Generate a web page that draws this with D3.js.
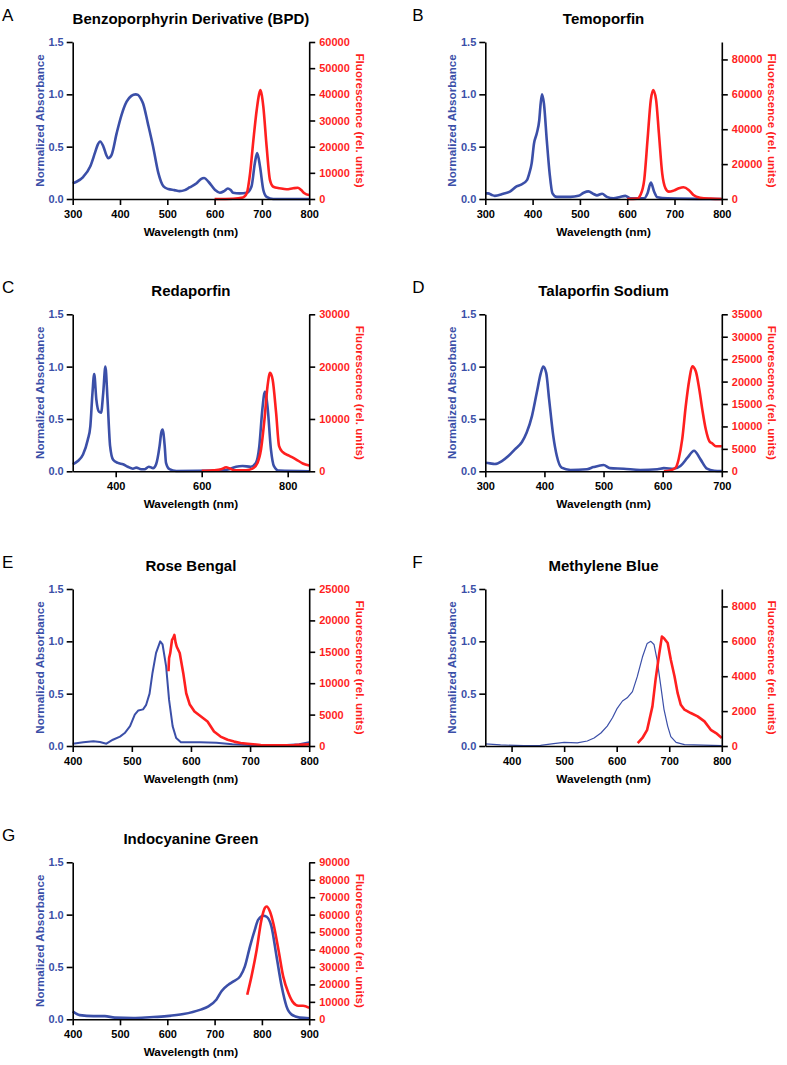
<!DOCTYPE html>
<html>
<head>
<meta charset="utf-8">
<script src="https://cdn.jsdelivr.net/npm/d3@7"></script>
<style>
  body { margin: 0; background: #fff; }
  svg { display: block; font-family: "Liberation Sans", Arial, sans-serif; }
</style>
</head>
<body>
<div id="container"></div>
<script>
"use strict";

const width = 787;
const height = 1065;

const absColor = "#3B4FA8";
const flColor = "#FF1F1F";

const colLeft = [72.7, 485.3];
const rowTop = [42, 314.3, 589, 862.3];
const plotWidth = 236.5;
const plotHeight = 157;

// panel text
const letters = ["A", "B", "C", "D", "E", "F", "G"];
const titles = [
  "Benzoporphyrin Derivative (BPD)",
  "Temoporfin",
  "Redaporfin",
  "Talaporfin Sodium",
  "Rose Bengal",
  "Methylene Blue",
  "Indocyanine Green",
];

// axes
const xDomains = [[300, 800], [300, 800], [300, 850], [300, 700], [400, 800], [350, 800], [400, 900]];
const xTicks = [
  [300, 400, 500, 600, 700, 800],
  [300, 400, 500, 600, 700, 800],
  [400, 600, 800],
  [300, 400, 500, 600, 700],
  [400, 500, 600, 700, 800],
  [400, 500, 600, 700, 800],
  [400, 500, 600, 700, 800, 900],
];
const absTicks = [0, 0.5, 1.0, 1.5];
const flMax = [60000, 90000, 30000, 35000, 25000, 9000, 90000];
const flTicks = [
  [0, 10000, 20000, 30000, 40000, 50000, 60000],
  [0, 20000, 40000, 60000, 80000],
  [0, 10000, 20000, 30000],
  [0, 5000, 10000, 15000, 20000, 25000, 30000, 35000],
  [0, 5000, 10000, 15000, 20000, 25000],
  [0, 2000, 4000, 6000, 8000],
  [0, 10000, 20000, 30000, 40000, 50000, 60000, 70000, 80000, 90000],
];

// spectra: [wavelength nm, value]
const bpdAbs = [[300,0.15],[308,0.165],[322,0.21],[337,0.31],[347,0.44],[353,0.52],[358,0.55],[365,0.50],[371,0.42],[375,0.39],[382,0.42],[393,0.63],[403,0.80],[414,0.93],[424,0.985],[433,1.0],[438,0.995],[444,0.96],[449,0.91],[459,0.72],[470,0.50],[481,0.25],[492,0.12],[502,0.095],[515,0.085],[526,0.075],[537,0.085],[547,0.11],[562,0.15],[571,0.19],[578,0.20],[587,0.165],[601,0.086],[611,0.06],[620,0.075],[628,0.10],[634,0.085],[639,0.06],[653,0.054],[668,0.06],[678,0.12],[685,0.34],[690,0.44],[696,0.31],[703,0.086],[710,0.02],[724,0.0],[800,0.0]];
const bpdFl = [[600,0],[639,100],[660,600],[668,2200],[675,9800],[682,22500],[689,34000],[694,40000],[697,41600],[700,39500],[703,35300],[710,20000],[717,7300],[724,4700],[738,4100],[752,3700],[766,4100],[776,4300],[783,3400],[790,2200],[800,1500]];

const temAbs = [[300,0.054],[306,0.054],[313,0.04],[320,0.03],[338,0.05],[352,0.07],[366,0.12],[377,0.14],[388,0.18],[393,0.245],[398,0.34],[403,0.53],[409,0.63],[414,0.75],[417,0.91],[420,1.0],[424,0.91],[430,0.56],[436,0.245],[442,0.054],[451,0.02],[480,0.02],[497,0.03],[508,0.06],[518,0.073],[529,0.048],[536,0.035],[547,0.05],[557,0.02],[571,0.006],[585,0.02],[596,0.03],[607,0.006],[636,0.006],[643,0.054],[650,0.156],[657,0.07],[664,0.016],[685,0.006],[800,0.0]];
const temFl = [[600,0],[621,200],[628,2300],[636,11000],[643,34000],[650,57000],[655,62500],[661,57000],[667,37700],[674,14700],[681,6100],[688,4200],[698,4800],[709,6100],[719,6700],[730,5200],[740,2300],[754,770],[776,200],[800,0]];

const redAbs = [[300,0.067],[312,0.098],[324,0.16],[335,0.30],[341,0.43],[346,0.75],[350,0.93],[355,0.685],[361,0.57],[366,0.56],[371,0.75],[376,1.0],[381,0.685],[387,0.24],[394,0.11],[405,0.08],[417,0.067],[428,0.044],[440,0.025],[448,0.035],[459,0.02],[467,0.02],[477,0.044],[487,0.03],[494,0.067],[502,0.24],[506,0.37],[509,0.40],[514,0.24],[517,0.08],[525,0.02],[541,0.003],[641,0.006],[664,0.02],[680,0.044],[695,0.05],[714,0.044],[726,0.08],[734,0.24],[741,0.59],[747,0.76],[753,0.62],[761,0.21],[768,0.05],[780,0.006],[850,0.0]];
const redFl = [[600,100],[626,190],[645,380],[657,760],[664,570],[676,190],[703,190],[718,500],[730,1650],[738,4200],[746,9900],[753,16200],[759,18800],[765,17500],[773,11200],[780,4800],[788,3700],[803,3000],[819,2300],[835,1500],[850,1100]];

const talAbs = [[300,0.082],[308,0.076],[316,0.07],[328,0.098],[339,0.146],[350,0.21],[362,0.28],[370,0.37],[379,0.53],[387,0.75],[394,0.94],[398,1.0],[403,0.94],[408,0.685],[415,0.336],[421,0.146],[429,0.035],[444,0.013],[472,0.02],[483,0.04],[500,0.06],[511,0.03],[534,0.025],[562,0.013],[591,0.02],[602,0.03],[619,0.025],[630,0.05],[642,0.13],[653,0.197],[664,0.114],[675,0.025],[687,0.006],[700,0.003]];
const talFl = [[602,0],[613,200],[622,800],[627,2700],[633,7100],[639,14500],[645,20400],[650,23400],[656,22300],[662,18200],[667,13800],[673,9300],[679,6700],[684,6200],[690,5600],[700,5600]];

const rbAbs = [[400,0.022],[418,0.035],[435,0.045],[446,0.038],[457,0.022],[468,0.06],[480,0.09],[488,0.124],[497,0.19],[505,0.30],[511,0.34],[519,0.35],[524,0.39],[530,0.50],[535,0.70],[541,0.89],[548,1.0],[552,0.97],[558,0.76],[563,0.44],[569,0.19],[575,0.076],[583,0.035],[615,0.035],[643,0.03],[670,0.016],[698,0.01],[726,0.005],[755,0.008],[783,0.016],[800,0.035]];
const rbFl = [[562,11900],[563,14000],[565,14800],[568,16900],[570,17200],[572,17700],[574,16500],[576,15800],[581,14800],[587,11600],[592,8400],[598,6600],[606,5500],[617,4700],[628,3900],[639,2300],[650,1500],[662,1000],[673,700],[684,480],[696,370],[718,160],[741,100],[775,160],[800,260]];

const mbAbs = [[350,0.02],[379,0.01],[423,0.003],[455,0.006],[480,0.022],[500,0.035],[525,0.03],[544,0.048],[557,0.076],[570,0.124],[582,0.19],[592,0.27],[601,0.36],[611,0.43],[620,0.46],[630,0.52],[639,0.66],[649,0.85],[658,0.98],[665,1.0],[671,0.97],[677,0.82],[684,0.57],[690,0.35],[697,0.19],[703,0.09],[713,0.035],[729,0.013],[800,0.003]];
const mbFl = [[640,170],[649,460],[658,930],[668,2270],[674,3800],[681,5300],[686,6270],[690,6180],[697,5900],[703,4940],[710,4000],[716,3030],[722,2360],[729,2080],[741,1890],[754,1700],[767,1410],[779,930],[789,740],[800,460]];

const icgAbs = [[400,0.076],[415,0.04],[444,0.03],[468,0.03],[489,0.016],[528,0.013],[563,0.02],[599,0.03],[634,0.05],[669,0.09],[687,0.124],[704,0.19],[715,0.27],[729,0.33],[739,0.36],[754,0.41],[764,0.505],[775,0.70],[785,0.855],[792,0.95],[803,0.99],[810,0.98],[820,0.89],[831,0.60],[842,0.31],[852,0.124],[863,0.045],[880,0.016],[900,0.01]];
const icgFl = [[769,14100],[778,24600],[789,39900],[799,57000],[806,63700],[810,64700],[817,61800],[824,55200],[835,39900],[845,24600],[856,15100],[866,9700],[877,7800],[887,7800],[900,6500]];

const absSeries = [bpdAbs, temAbs, redAbs, talAbs, rbAbs, mbAbs, icgAbs];
const flSeries = [bpdFl, temFl, redFl, talFl, rbFl, mbFl, icgFl];

// line styles per panel
const absWidths = [2.6, 2.6, 2.6, 2.6, 2, 1.2, 2.6];
const noisy = [false, false, false, false, true, true, false];

const svg = d3
  .select("#container")
  .append("svg")
  .attr("width", width)
  .attr("height", height);

const styleAxis = (g, color) => {
  g.select(".domain").attr("stroke", "#000").attr("stroke-width", 1.6);
  g.selectAll(".tick line").attr("stroke", "#000").attr("stroke-width", 1.6);
  g.selectAll(".tick text")
    .attr("fill", color)
    .style("font-size", "11px")
    .style("font-weight", "bold")
    .style("font-family", "'Liberation Sans', Arial, sans-serif");
};

const drawPanel = (i) => {
  const left = colLeft[i % 2];
  const top = rowTop[Math.floor(i / 2)];
  const bottom = top + plotHeight;
  const right = left + plotWidth;

  const x = d3.scaleLinear().domain(xDomains[i]).range([left, right]);
  const yAbs = d3.scaleLinear().domain([0, 1.5]).range([bottom, top]);
  const yFl = d3.scaleLinear().domain([0, flMax[i]]).range([bottom, top]);

  const curve = noisy[i] ? d3.curveLinear : d3.curveMonotoneX;

  // title and letter
  svg
    .append("text")
    .attr("x", (left + right) / 2)
    .attr("y", top - 18.5)
    .attr("text-anchor", "middle")
    .style("font-size", "15px")
    .style("font-weight", "bold")
    .text(titles[i]);

  svg
    .append("text")
    .attr("x", i % 2 === 0 ? 2 : left - 73)
    .attr("y", top - 21.5)
    .style("font-size", "17px")
    .text(letters[i]);

  // spectra
  svg
    .append("path")
    .datum(absSeries[i])
    .attr("fill", "none")
    .attr("stroke", absColor)
    .attr("stroke-width", absWidths[i])
    .attr("stroke-linejoin", "round")
    .attr(
      "d",
      d3
        .line()
        .x((d) => x(d[0]))
        .y((d) => yAbs(d[1]))
        .curve(curve)
    );

  svg
    .append("path")
    .datum(flSeries[i])
    .attr("fill", "none")
    .attr("stroke", flColor)
    .attr("stroke-width", 2.6)
    .attr("stroke-linejoin", "round")
    .attr(
      "d",
      d3
        .line()
        .x((d) => x(d[0]))
        .y((d) => yFl(d[1]))
        .curve(curve)
    );

  // axes
  svg
    .append("g")
    .attr("transform", `translate(0, ${bottom})`)
    .call(
      d3
        .axisBottom(x)
        .tickValues(xTicks[i])
        .tickSize(6)
        .tickSizeOuter(0)
        .tickPadding(5)
        .tickFormat(d3.format("d"))
    )
    .call((g) => styleAxis(g, "#000"));

  svg
    .append("g")
    .attr("transform", `translate(${left}, 0)`)
    .call(
      d3
        .axisLeft(yAbs)
        .tickValues(absTicks)
        .tickSize(6)
        .tickSizeOuter(0)
        .tickPadding(3)
        .tickFormat(d3.format(".1f"))
    )
    .call((g) => styleAxis(g, absColor));

  svg
    .append("g")
    .attr("transform", `translate(${right}, 0)`)
    .call(
      d3
        .axisRight(yFl)
        .tickValues(flTicks[i])
        .tickSize(6)
        .tickSizeOuter(0)
        .tickPadding(4)
        .tickFormat(d3.format("d"))
    )
    .call((g) => styleAxis(g, flColor));

  // axis labels
  svg
    .append("text")
    .attr("text-anchor", "middle")
    .attr("x", (left + right) / 2)
    .attr("y", bottom + 37)
    .style("font-size", "11.8px")
    .style("font-weight", "bold")
    .text("Wavelength (nm)");

  svg
    .append("text")
    .attr("text-anchor", "middle")
    .attr("dominant-baseline", "central")
    .attr("transform", `translate(${left - 33.5}, ${(top + bottom) / 2}) rotate(-90)`)
    .attr("fill", absColor)
    .style("font-size", "11.6px")
    .style("font-weight", "bold")
    .text("Normalized Absorbance");

  svg
    .append("text")
    .attr("text-anchor", "middle")
    .attr("dominant-baseline", "central")
    .attr("transform", `translate(${right + 51}, ${(top + bottom) / 2}) rotate(90)`)
    .attr("fill", flColor)
    .style("font-size", "11.6px")
    .style("font-weight", "bold")
    .text("Fluorescence (rel. units)");
};

letters.forEach((_l, i) => drawPanel(i));
</script>
</body>
</html>
